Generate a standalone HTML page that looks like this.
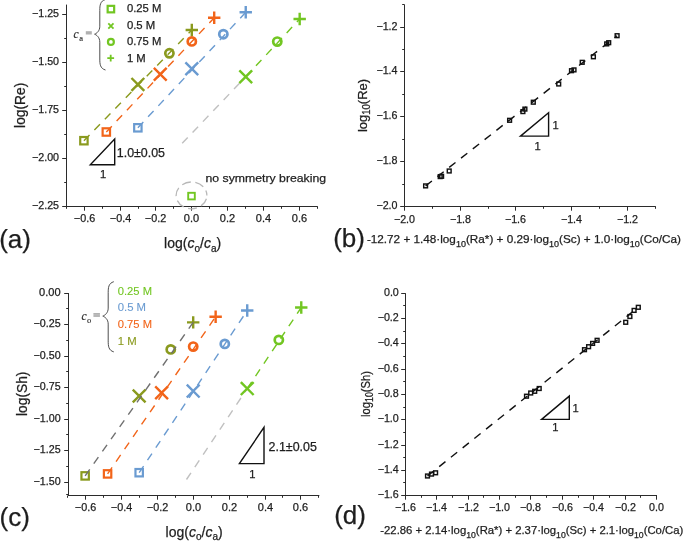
<!DOCTYPE html>
<html><head><meta charset="utf-8"><style>
html,body{margin:0;padding:0;background:#fff;width:685px;height:541px;overflow:hidden}
svg{display:block;will-change:transform}
text{stroke-width:0.25px}
</style></head><body>
<svg width="685" height="541" viewBox="0 0 685 541">
<rect width="685" height="541" fill="#fff"/>
<line x1="66.5" y1="4.6" x2="66.5" y2="207" stroke="#2b2b2b" stroke-width="1" />
<line x1="66" y1="206.5" x2="317.74" y2="206.5" stroke="#2b2b2b" stroke-width="1" />
<line x1="62.2" y1="14.5" x2="66.5" y2="14.5" stroke="#2b2b2b" stroke-width="1" />
<line x1="62.2" y1="62.5" x2="66.5" y2="62.5" stroke="#2b2b2b" stroke-width="1" />
<line x1="62.2" y1="110.5" x2="66.5" y2="110.5" stroke="#2b2b2b" stroke-width="1" />
<line x1="62.2" y1="158.5" x2="66.5" y2="158.5" stroke="#2b2b2b" stroke-width="1" />
<line x1="62.2" y1="206.5" x2="66.5" y2="206.5" stroke="#2b2b2b" stroke-width="1" />
<line x1="64.2" y1="38.5" x2="66.5" y2="38.5" stroke="#2b2b2b" stroke-width="1" />
<line x1="64.2" y1="86.5" x2="66.5" y2="86.5" stroke="#2b2b2b" stroke-width="1" />
<line x1="64.2" y1="134.5" x2="66.5" y2="134.5" stroke="#2b2b2b" stroke-width="1" />
<line x1="64.2" y1="182.5" x2="66.5" y2="182.5" stroke="#2b2b2b" stroke-width="1" />
<line x1="84.5" y1="206.5" x2="84.5" y2="210.7" stroke="#2b2b2b" stroke-width="1" />
<line x1="120.5" y1="206.5" x2="120.5" y2="210.7" stroke="#2b2b2b" stroke-width="1" />
<line x1="155.5" y1="206.5" x2="155.5" y2="210.7" stroke="#2b2b2b" stroke-width="1" />
<line x1="191.5" y1="206.5" x2="191.5" y2="210.7" stroke="#2b2b2b" stroke-width="1" />
<line x1="227.5" y1="206.5" x2="227.5" y2="210.7" stroke="#2b2b2b" stroke-width="1" />
<line x1="263.5" y1="206.5" x2="263.5" y2="210.7" stroke="#2b2b2b" stroke-width="1" />
<line x1="299.5" y1="206.5" x2="299.5" y2="210.7" stroke="#2b2b2b" stroke-width="1" />
<line x1="66.5" y1="206.5" x2="66.5" y2="208.8" stroke="#2b2b2b" stroke-width="1" />
<line x1="102.5" y1="206.5" x2="102.5" y2="208.8" stroke="#2b2b2b" stroke-width="1" />
<line x1="138.5" y1="206.5" x2="138.5" y2="208.8" stroke="#2b2b2b" stroke-width="1" />
<line x1="173.5" y1="206.5" x2="173.5" y2="208.8" stroke="#2b2b2b" stroke-width="1" />
<line x1="209.5" y1="206.5" x2="209.5" y2="208.8" stroke="#2b2b2b" stroke-width="1" />
<line x1="245.5" y1="206.5" x2="245.5" y2="208.8" stroke="#2b2b2b" stroke-width="1" />
<line x1="281.5" y1="206.5" x2="281.5" y2="208.8" stroke="#2b2b2b" stroke-width="1" />
<line x1="317.5" y1="206.5" x2="317.5" y2="208.8" stroke="#2b2b2b" stroke-width="1" />
<text id="ay0" x="59" y="17.4" font-size="10.7" text-anchor="end" fill="#1e1e1e" stroke="#1e1e1e" font-family="Liberation Sans" textLength="27" lengthAdjust="spacingAndGlyphs" >−1.25</text>
<text id="ay1" x="59" y="65.4" font-size="10.7" text-anchor="end" fill="#1e1e1e" stroke="#1e1e1e" font-family="Liberation Sans" textLength="27" lengthAdjust="spacingAndGlyphs" >−1.50</text>
<text id="ay2" x="59" y="113.4" font-size="10.7" text-anchor="end" fill="#1e1e1e" stroke="#1e1e1e" font-family="Liberation Sans" textLength="27" lengthAdjust="spacingAndGlyphs" >−1.75</text>
<text id="ay3" x="59" y="161.4" font-size="10.7" text-anchor="end" fill="#1e1e1e" stroke="#1e1e1e" font-family="Liberation Sans" textLength="27" lengthAdjust="spacingAndGlyphs" >−2.00</text>
<text id="ay4" x="59" y="209.4" font-size="10.7" text-anchor="end" fill="#1e1e1e" stroke="#1e1e1e" font-family="Liberation Sans" textLength="27" lengthAdjust="spacingAndGlyphs" >−2.25</text>
<text id="ax0" x="84.5" y="222" font-size="10.7" text-anchor="middle" fill="#1e1e1e" stroke="#1e1e1e" font-family="Liberation Sans" textLength="21.3" lengthAdjust="spacingAndGlyphs" >−0.6</text>
<text id="ax1" x="120.5" y="222" font-size="10.7" text-anchor="middle" fill="#1e1e1e" stroke="#1e1e1e" font-family="Liberation Sans" textLength="21.3" lengthAdjust="spacingAndGlyphs" >−0.4</text>
<text id="ax2" x="155.5" y="222" font-size="10.7" text-anchor="middle" fill="#1e1e1e" stroke="#1e1e1e" font-family="Liberation Sans" textLength="21.3" lengthAdjust="spacingAndGlyphs" >−0.2</text>
<text id="ax3" x="191.5" y="222" font-size="10.7" text-anchor="middle" fill="#1e1e1e" stroke="#1e1e1e" font-family="Liberation Sans" textLength="15.3" lengthAdjust="spacingAndGlyphs" >0.0</text>
<text id="ax4" x="227.5" y="222" font-size="10.7" text-anchor="middle" fill="#1e1e1e" stroke="#1e1e1e" font-family="Liberation Sans" textLength="15.3" lengthAdjust="spacingAndGlyphs" >0.2</text>
<text id="ax5" x="263.5" y="222" font-size="10.7" text-anchor="middle" fill="#1e1e1e" stroke="#1e1e1e" font-family="Liberation Sans" textLength="15.3" lengthAdjust="spacingAndGlyphs" >0.4</text>
<text id="ax6" x="299.5" y="222" font-size="10.7" text-anchor="middle" fill="#1e1e1e" stroke="#1e1e1e" font-family="Liberation Sans" textLength="15.3" lengthAdjust="spacingAndGlyphs" >0.6</text>
<line x1="182.2" y1="143.3" x2="245.74" y2="76.8" stroke="#c0c0c0" stroke-width="1.4" stroke-dasharray="8 7" stroke-dashoffset="0"/>
<rect x="80.22" y="137" width="7.4" height="7.4" fill="none" stroke="#8a9a1e" stroke-width="2.2"/>
<path d="M131.46 78L144.26 90.8M131.46 90.8L144.26 78" stroke="#8a9a1e" stroke-width="2.4" fill="none"/>
<circle cx="169.4" cy="53.3" r="4.1" fill="none" stroke="#8a9a1e" stroke-width="2.7"/>
<path d="M185.6 30L198 30M191.8 23.8L191.8 36.2" stroke="#8a9a1e" stroke-width="2.4" fill="none"/>
<rect x="102.62" y="128.3" width="7.4" height="7.4" fill="none" stroke="#f26419" stroke-width="2.2"/>
<path d="M153.86 67.9L166.66 80.7M153.86 80.7L166.66 67.9" stroke="#f26419" stroke-width="2.4" fill="none"/>
<circle cx="191.8" cy="41.4" r="4.1" fill="none" stroke="#f26419" stroke-width="2.7"/>
<path d="M208 17.8L220.4 17.8M214.2 11.6L214.2 24" stroke="#f26419" stroke-width="2.4" fill="none"/>
<rect x="134.16" y="124.1" width="7.4" height="7.4" fill="none" stroke="#6a9bd1" stroke-width="2.2"/>
<path d="M185.4 62.4L198.2 75.2M185.4 75.2L198.2 62.4" stroke="#6a9bd1" stroke-width="2.4" fill="none"/>
<circle cx="223.34" cy="34.2" r="4.1" fill="none" stroke="#6a9bd1" stroke-width="2.7"/>
<path d="M239.54 12.3L251.94 12.3M245.74 6.1L245.74 18.5" stroke="#6a9bd1" stroke-width="2.4" fill="none"/>
<path d="M239.34 70.4L252.14 83.2M239.34 83.2L252.14 70.4" stroke="#72c622" stroke-width="2.4" fill="none"/>
<circle cx="277.28" cy="41.6" r="4.1" fill="none" stroke="#72c622" stroke-width="2.7"/>
<path d="M293.48 19L305.88 19M299.68 12.8L299.68 25.2" stroke="#72c622" stroke-width="2.4" fill="none"/>
<line x1="83.92" y1="140.7" x2="191.8" y2="30" stroke="#8a9a1e" stroke-width="1.4" stroke-dasharray="8 7" stroke-dashoffset="0"/>
<line x1="106.32" y1="132" x2="214.2" y2="17.8" stroke="#f26419" stroke-width="1.4" stroke-dasharray="8 7" stroke-dashoffset="0"/>
<line x1="137.86" y1="127.8" x2="245.74" y2="12.3" stroke="#6a9bd1" stroke-width="1.4" stroke-dasharray="8 7" stroke-dashoffset="0"/>
<line x1="245.74" y1="76.8" x2="299.68" y2="19" stroke="#72c622" stroke-width="1.4" stroke-dasharray="8 7" stroke-dashoffset="0"/>
<ellipse cx="191.5" cy="195.4" rx="15.4" ry="13.4" fill="none" stroke="#b8b8b8" stroke-width="1.3" stroke-dasharray="9 4.6" stroke-dashoffset="10.2"/>
<rect x="188.2" y="192.8" width="6.6" height="6.6" fill="none" stroke="#72c622" stroke-width="1.9"/>
<text id="nsb" x="205.5" y="181.8" font-size="11.8" text-anchor="start" fill="#1e1e1e" stroke="#1e1e1e" font-family="Liberation Sans" textLength="120.6" lengthAdjust="spacingAndGlyphs" >no symmetry breaking</text>
<path d="M90.3 164.7 L114.7 164.7 L114.7 138.9 Z" fill="none" stroke="#111" stroke-width="1.4" stroke-linejoin="miter"/>
<text id="a_slope" x="116.8" y="156.8" font-size="11.9" text-anchor="start" fill="#1e1e1e" stroke="#1e1e1e" font-family="Liberation Sans" textLength="48.2" lengthAdjust="spacingAndGlyphs" >1.0±0.05</text>
<text id="a_one" x="103.2" y="178.2" font-size="11.2" text-anchor="middle" fill="#1e1e1e" stroke="#1e1e1e" font-family="Liberation Sans" >1</text>
<path d="M105.5 -0.5 C100.1 1 99.8 5.5 99.8 10.5 L99.8 26.2 C99.8 31.2 96.6 33.4 94.6 34.2 C96.6 35 99.8 37.2 99.8 42.2 L99.8 59 C99.8 64 100.1 68.5 105.5 70" fill="none" stroke="#3a3a3a" stroke-width="0.9"/>
<rect x="107.65" y="5.85" width="6.5" height="6.5" fill="none" stroke="#72c622" stroke-width="2.2"/>
<path d="M108.3 23.4L113.5 28.6M108.3 28.6L113.5 23.4" stroke="#72c622" stroke-width="1.8" fill="none"/>
<circle cx="110.9" cy="41.9" r="2.95" fill="none" stroke="#72c622" stroke-width="2.2"/>
<path d="M107.3 58.2L114.1 58.2M110.7 54.8L110.7 61.6" stroke="#72c622" stroke-width="1.8" fill="none"/>
<text id="alg0" x="126.9" y="12" font-size="10.9" text-anchor="start" fill="#1e1e1e" stroke="#1e1e1e" font-family="Liberation Sans" textLength="34.4" lengthAdjust="spacingAndGlyphs" >0.25 M</text>
<text id="alg1" x="126.9" y="28.8" font-size="10.9" text-anchor="start" fill="#1e1e1e" stroke="#1e1e1e" font-family="Liberation Sans" textLength="28.4" lengthAdjust="spacingAndGlyphs" >0.5 M</text>
<text id="alg2" x="126.9" y="45.3" font-size="10.9" text-anchor="start" fill="#1e1e1e" stroke="#1e1e1e" font-family="Liberation Sans" textLength="34.4" lengthAdjust="spacingAndGlyphs" >0.75 M</text>
<text id="alg3" x="126.9" y="61.8" font-size="10.9" text-anchor="start" fill="#1e1e1e" stroke="#1e1e1e" font-family="Liberation Sans" textLength="18.8" lengthAdjust="spacingAndGlyphs" >1 M</text>
<text x="73.4" y="37.6" font-family="Liberation Serif" font-style="italic" font-size="11.5" fill="#333" stroke="#333" style="stroke-width:0.2px">c</text>
<text x="79.3" y="40.8" font-family="Liberation Serif" font-size="8.5" fill="#333" stroke="#333" style="stroke-width:0.2px">a</text>
<rect x="85.8" y="31.2" width="6" height="3.3" fill="#b0b0b0"/>
<text id="a_ylab" transform="translate(25.3,105.3) rotate(-90)" font-family="Liberation Sans" font-size="13.8" text-anchor="middle" fill="#1e1e1e" stroke="#1e1e1e">log(Re)</text>
<text id="a_xlab" x="164.1" y="248.2" font-family="Liberation Sans" font-size="14" fill="#1e1e1e" stroke="#1e1e1e">log(<tspan font-style="italic">c</tspan><tspan font-size="10" dy="3.8">o</tspan><tspan dy="-3.8">/</tspan><tspan font-style="italic">c</tspan><tspan font-size="10" dy="3.8">a</tspan><tspan dy="-3.8">)</tspan></text>
<text id="a_pl" x="-0.8" y="247.9" font-family="Liberation Sans" font-size="26" fill="#1e1e1e" stroke="#1e1e1e">(a)</text>
<line x1="404.5" y1="4.55" x2="404.5" y2="207" stroke="#2b2b2b" stroke-width="1" />
<line x1="404" y1="206.5" x2="655.82" y2="206.5" stroke="#2b2b2b" stroke-width="1" />
<line x1="400.2" y1="27.5" x2="404.5" y2="27.5" stroke="#2b2b2b" stroke-width="1" />
<line x1="400.2" y1="71.5" x2="404.5" y2="71.5" stroke="#2b2b2b" stroke-width="1" />
<line x1="400.2" y1="116.5" x2="404.5" y2="116.5" stroke="#2b2b2b" stroke-width="1" />
<line x1="400.2" y1="161.5" x2="404.5" y2="161.5" stroke="#2b2b2b" stroke-width="1" />
<line x1="400.2" y1="206.5" x2="404.5" y2="206.5" stroke="#2b2b2b" stroke-width="1" />
<line x1="402.2" y1="4.5" x2="404.5" y2="4.5" stroke="#2b2b2b" stroke-width="1" />
<line x1="402.2" y1="49.5" x2="404.5" y2="49.5" stroke="#2b2b2b" stroke-width="1" />
<line x1="402.2" y1="94.5" x2="404.5" y2="94.5" stroke="#2b2b2b" stroke-width="1" />
<line x1="402.2" y1="139.5" x2="404.5" y2="139.5" stroke="#2b2b2b" stroke-width="1" />
<line x1="402.2" y1="184.5" x2="404.5" y2="184.5" stroke="#2b2b2b" stroke-width="1" />
<line x1="404.5" y1="206.5" x2="404.5" y2="210.7" stroke="#2b2b2b" stroke-width="1" />
<line x1="460.5" y1="206.5" x2="460.5" y2="210.7" stroke="#2b2b2b" stroke-width="1" />
<line x1="515.5" y1="206.5" x2="515.5" y2="210.7" stroke="#2b2b2b" stroke-width="1" />
<line x1="571.5" y1="206.5" x2="571.5" y2="210.7" stroke="#2b2b2b" stroke-width="1" />
<line x1="627.5" y1="206.5" x2="627.5" y2="210.7" stroke="#2b2b2b" stroke-width="1" />
<line x1="432.5" y1="206.5" x2="432.5" y2="208.8" stroke="#2b2b2b" stroke-width="1" />
<line x1="488.5" y1="206.5" x2="488.5" y2="208.8" stroke="#2b2b2b" stroke-width="1" />
<line x1="543.5" y1="206.5" x2="543.5" y2="208.8" stroke="#2b2b2b" stroke-width="1" />
<line x1="599.5" y1="206.5" x2="599.5" y2="208.8" stroke="#2b2b2b" stroke-width="1" />
<line x1="655.5" y1="206.5" x2="655.5" y2="208.8" stroke="#2b2b2b" stroke-width="1" />
<text id="by0" x="397.5" y="30.4" font-size="10.7" text-anchor="end" fill="#1e1e1e" stroke="#1e1e1e" font-family="Liberation Sans" >−1.2</text>
<text id="by1" x="397.5" y="74.4" font-size="10.7" text-anchor="end" fill="#1e1e1e" stroke="#1e1e1e" font-family="Liberation Sans" >−1.4</text>
<text id="by2" x="397.5" y="119.4" font-size="10.7" text-anchor="end" fill="#1e1e1e" stroke="#1e1e1e" font-family="Liberation Sans" >−1.6</text>
<text id="by3" x="397.5" y="164.4" font-size="10.7" text-anchor="end" fill="#1e1e1e" stroke="#1e1e1e" font-family="Liberation Sans" >−1.8</text>
<text id="by4" x="397.5" y="209.4" font-size="10.7" text-anchor="end" fill="#1e1e1e" stroke="#1e1e1e" font-family="Liberation Sans" >−2.0</text>
<text id="bx0" x="404.5" y="222.5" font-size="10.7" text-anchor="middle" fill="#1e1e1e" stroke="#1e1e1e" font-family="Liberation Sans" >−2.0</text>
<text id="bx1" x="460.5" y="222.5" font-size="10.7" text-anchor="middle" fill="#1e1e1e" stroke="#1e1e1e" font-family="Liberation Sans" >−1.8</text>
<text id="bx2" x="515.5" y="222.5" font-size="10.7" text-anchor="middle" fill="#1e1e1e" stroke="#1e1e1e" font-family="Liberation Sans" >−1.6</text>
<text id="bx3" x="571.5" y="222.5" font-size="10.7" text-anchor="middle" fill="#1e1e1e" stroke="#1e1e1e" font-family="Liberation Sans" >−1.4</text>
<text id="bx4" x="627.5" y="222.5" font-size="10.7" text-anchor="middle" fill="#1e1e1e" stroke="#1e1e1e" font-family="Liberation Sans" >−1.2</text>
<rect x="423.7" y="184" width="3.8" height="3.8" fill="none" stroke="#111" stroke-width="1.45"/>
<rect x="438.3" y="174.7" width="3.8" height="3.8" fill="none" stroke="#111" stroke-width="1.45"/>
<rect x="439.7" y="174.4" width="3.8" height="3.8" fill="none" stroke="#111" stroke-width="1.45"/>
<rect x="447.3" y="169.1" width="3.8" height="3.8" fill="none" stroke="#111" stroke-width="1.45"/>
<rect x="507.7" y="118.4" width="3.8" height="3.8" fill="none" stroke="#111" stroke-width="1.45"/>
<rect x="521" y="109.7" width="3.8" height="3.8" fill="none" stroke="#111" stroke-width="1.45"/>
<rect x="523" y="107.2" width="3.8" height="3.8" fill="none" stroke="#111" stroke-width="1.45"/>
<rect x="531.4" y="100.3" width="3.8" height="3.8" fill="none" stroke="#111" stroke-width="1.45"/>
<rect x="556.8" y="82.1" width="3.8" height="3.8" fill="none" stroke="#111" stroke-width="1.45"/>
<rect x="569.6" y="68.8" width="3.8" height="3.8" fill="none" stroke="#111" stroke-width="1.45"/>
<rect x="572.1" y="68" width="3.8" height="3.8" fill="none" stroke="#111" stroke-width="1.45"/>
<rect x="580.3" y="60.4" width="3.8" height="3.8" fill="none" stroke="#111" stroke-width="1.45"/>
<rect x="591.5" y="54.9" width="3.8" height="3.8" fill="none" stroke="#111" stroke-width="1.45"/>
<rect x="604.8" y="42" width="3.8" height="3.8" fill="none" stroke="#111" stroke-width="1.45"/>
<rect x="606.8" y="40.8" width="3.8" height="3.8" fill="none" stroke="#111" stroke-width="1.45"/>
<rect x="615.2" y="33.8" width="3.8" height="3.8" fill="none" stroke="#111" stroke-width="1.45"/>
<line x1="425.6" y1="185.9" x2="617.1" y2="35.7" stroke="#111" stroke-width="1.4" stroke-dasharray="8 7" stroke-dashoffset="0"/>
<path d="M520.5 136.1 L548.6 136.1 L548.6 112.8 Z" fill="none" stroke="#111" stroke-width="1.4"/>
<text id="b_one1" x="555.5" y="128.6" font-size="11.2" text-anchor="middle" fill="#1e1e1e" stroke="#1e1e1e" font-family="Liberation Sans" >1</text>
<text id="b_one2" x="537.5" y="149.9" font-size="11.2" text-anchor="middle" fill="#1e1e1e" stroke="#1e1e1e" font-family="Liberation Sans" >1</text>
<text id="b_ylab" transform="translate(366.6,105.5) rotate(-90)" font-family="Liberation Sans" font-size="13.6" text-anchor="middle" fill="#1e1e1e" stroke="#1e1e1e" textLength="53.2" lengthAdjust="spacingAndGlyphs">log<tspan font-size="10" dy="3">10</tspan><tspan dy="-3">(Re)</tspan></text>
<text id="b_pl" x="333.2" y="246.8" font-family="Liberation Sans" font-size="26" fill="#1e1e1e" stroke="#1e1e1e">(b)</text>
<text id="b_form" x="366.9" y="243" font-family="Liberation Sans" font-size="11.2" fill="#1e1e1e" stroke="#1e1e1e" textLength="314" lengthAdjust="spacingAndGlyphs">-12.72 + 1.48·log<tspan font-size="8.6" dy="3.9">10</tspan><tspan dy="-3.9">(Ra*) + 0.29·log</tspan><tspan font-size="8.6" dy="3.9">10</tspan><tspan dy="-3.9">(Sc) + 1.0·log</tspan><tspan font-size="8.6" dy="3.9">10</tspan><tspan dy="-3.9">(Co/Ca)</tspan></text>
<line x1="68.5" y1="293" x2="68.5" y2="496" stroke="#2b2b2b" stroke-width="1" />
<line x1="68" y1="495.5" x2="319.35" y2="495.5" stroke="#2b2b2b" stroke-width="1" />
<line x1="64.2" y1="293.5" x2="68.5" y2="293.5" stroke="#2b2b2b" stroke-width="1" />
<line x1="64.2" y1="324.5" x2="68.5" y2="324.5" stroke="#2b2b2b" stroke-width="1" />
<line x1="64.2" y1="356.5" x2="68.5" y2="356.5" stroke="#2b2b2b" stroke-width="1" />
<line x1="64.2" y1="387.5" x2="68.5" y2="387.5" stroke="#2b2b2b" stroke-width="1" />
<line x1="64.2" y1="419.5" x2="68.5" y2="419.5" stroke="#2b2b2b" stroke-width="1" />
<line x1="64.2" y1="450.5" x2="68.5" y2="450.5" stroke="#2b2b2b" stroke-width="1" />
<line x1="64.2" y1="482.5" x2="68.5" y2="482.5" stroke="#2b2b2b" stroke-width="1" />
<line x1="66.2" y1="308.5" x2="68.5" y2="308.5" stroke="#2b2b2b" stroke-width="1" />
<line x1="66.2" y1="340.5" x2="68.5" y2="340.5" stroke="#2b2b2b" stroke-width="1" />
<line x1="66.2" y1="371.5" x2="68.5" y2="371.5" stroke="#2b2b2b" stroke-width="1" />
<line x1="66.2" y1="403.5" x2="68.5" y2="403.5" stroke="#2b2b2b" stroke-width="1" />
<line x1="66.2" y1="434.5" x2="68.5" y2="434.5" stroke="#2b2b2b" stroke-width="1" />
<line x1="66.2" y1="466.5" x2="68.5" y2="466.5" stroke="#2b2b2b" stroke-width="1" />
<line x1="66.2" y1="494.5" x2="68.5" y2="494.5" stroke="#2b2b2b" stroke-width="1" />
<line x1="85.5" y1="495.5" x2="85.5" y2="499.7" stroke="#2b2b2b" stroke-width="1" />
<line x1="121.5" y1="495.5" x2="121.5" y2="499.7" stroke="#2b2b2b" stroke-width="1" />
<line x1="157.5" y1="495.5" x2="157.5" y2="499.7" stroke="#2b2b2b" stroke-width="1" />
<line x1="193.5" y1="495.5" x2="193.5" y2="499.7" stroke="#2b2b2b" stroke-width="1" />
<line x1="229.5" y1="495.5" x2="229.5" y2="499.7" stroke="#2b2b2b" stroke-width="1" />
<line x1="265.5" y1="495.5" x2="265.5" y2="499.7" stroke="#2b2b2b" stroke-width="1" />
<line x1="300.5" y1="495.5" x2="300.5" y2="499.7" stroke="#2b2b2b" stroke-width="1" />
<line x1="67.5" y1="495.5" x2="67.5" y2="497.8" stroke="#2b2b2b" stroke-width="1" />
<line x1="103.5" y1="495.5" x2="103.5" y2="497.8" stroke="#2b2b2b" stroke-width="1" />
<line x1="139.5" y1="495.5" x2="139.5" y2="497.8" stroke="#2b2b2b" stroke-width="1" />
<line x1="175.5" y1="495.5" x2="175.5" y2="497.8" stroke="#2b2b2b" stroke-width="1" />
<line x1="211.5" y1="495.5" x2="211.5" y2="497.8" stroke="#2b2b2b" stroke-width="1" />
<line x1="247.5" y1="495.5" x2="247.5" y2="497.8" stroke="#2b2b2b" stroke-width="1" />
<line x1="282.5" y1="495.5" x2="282.5" y2="497.8" stroke="#2b2b2b" stroke-width="1" />
<line x1="318.5" y1="495.5" x2="318.5" y2="497.8" stroke="#2b2b2b" stroke-width="1" />
<text id="cy0" x="60.6" y="296.4" font-size="10.7" text-anchor="end" fill="#1e1e1e" stroke="#1e1e1e" font-family="Liberation Sans" textLength="21.5" lengthAdjust="spacingAndGlyphs" >0.00</text>
<text id="cy1" x="60.6" y="327.4" font-size="10.7" text-anchor="end" fill="#1e1e1e" stroke="#1e1e1e" font-family="Liberation Sans" textLength="27" lengthAdjust="spacingAndGlyphs" >−0.25</text>
<text id="cy2" x="60.6" y="359.4" font-size="10.7" text-anchor="end" fill="#1e1e1e" stroke="#1e1e1e" font-family="Liberation Sans" textLength="27" lengthAdjust="spacingAndGlyphs" >−0.50</text>
<text id="cy3" x="60.6" y="390.4" font-size="10.7" text-anchor="end" fill="#1e1e1e" stroke="#1e1e1e" font-family="Liberation Sans" textLength="27" lengthAdjust="spacingAndGlyphs" >−0.75</text>
<text id="cy4" x="60.6" y="422.4" font-size="10.7" text-anchor="end" fill="#1e1e1e" stroke="#1e1e1e" font-family="Liberation Sans" textLength="27" lengthAdjust="spacingAndGlyphs" >−1.00</text>
<text id="cy5" x="60.6" y="453.4" font-size="10.7" text-anchor="end" fill="#1e1e1e" stroke="#1e1e1e" font-family="Liberation Sans" textLength="27" lengthAdjust="spacingAndGlyphs" >−1.25</text>
<text id="cy6" x="60.6" y="485.4" font-size="10.7" text-anchor="end" fill="#1e1e1e" stroke="#1e1e1e" font-family="Liberation Sans" textLength="27" lengthAdjust="spacingAndGlyphs" >−1.50</text>
<text id="cx0" x="85.5" y="510.8" font-size="10.7" text-anchor="middle" fill="#1e1e1e" stroke="#1e1e1e" font-family="Liberation Sans" textLength="21.3" lengthAdjust="spacingAndGlyphs" >−0.6</text>
<text id="cx1" x="121.5" y="510.8" font-size="10.7" text-anchor="middle" fill="#1e1e1e" stroke="#1e1e1e" font-family="Liberation Sans" textLength="21.3" lengthAdjust="spacingAndGlyphs" >−0.4</text>
<text id="cx2" x="157.5" y="510.8" font-size="10.7" text-anchor="middle" fill="#1e1e1e" stroke="#1e1e1e" font-family="Liberation Sans" textLength="21.3" lengthAdjust="spacingAndGlyphs" >−0.2</text>
<text id="cx3" x="193.5" y="510.8" font-size="10.7" text-anchor="middle" fill="#1e1e1e" stroke="#1e1e1e" font-family="Liberation Sans" textLength="15.3" lengthAdjust="spacingAndGlyphs" >0.0</text>
<text id="cx4" x="229.5" y="510.8" font-size="10.7" text-anchor="middle" fill="#1e1e1e" stroke="#1e1e1e" font-family="Liberation Sans" textLength="15.3" lengthAdjust="spacingAndGlyphs" >0.2</text>
<text id="cx5" x="265.5" y="510.8" font-size="10.7" text-anchor="middle" fill="#1e1e1e" stroke="#1e1e1e" font-family="Liberation Sans" textLength="15.3" lengthAdjust="spacingAndGlyphs" >0.4</text>
<text id="cx6" x="300.5" y="510.8" font-size="10.7" text-anchor="middle" fill="#1e1e1e" stroke="#1e1e1e" font-family="Liberation Sans" textLength="15.3" lengthAdjust="spacingAndGlyphs" >0.6</text>
<line x1="186.5" y1="479.5" x2="247.23" y2="388.6" stroke="#c0c0c0" stroke-width="1.4" stroke-dasharray="8 7" stroke-dashoffset="0"/>
<rect x="81.44" y="472.2" width="7.4" height="7.4" fill="none" stroke="#8a9a1e" stroke-width="2.2"/>
<path d="M132.77 389.6L145.57 402.4M132.77 402.4L145.57 389.6" stroke="#8a9a1e" stroke-width="2.4" fill="none"/>
<circle cx="170.76" cy="349.4" r="4.1" fill="none" stroke="#8a9a1e" stroke-width="2.7"/>
<path d="M187 322.4L199.4 322.4M193.2 316.2L193.2 328.6" stroke="#8a9a1e" stroke-width="2.4" fill="none"/>
<rect x="103.88" y="470.2" width="7.4" height="7.4" fill="none" stroke="#f26419" stroke-width="2.2"/>
<path d="M155.21 386.4L168.01 399.2M155.21 399.2L168.01 386.4" stroke="#f26419" stroke-width="2.4" fill="none"/>
<circle cx="193.2" cy="346.6" r="4.1" fill="none" stroke="#f26419" stroke-width="2.7"/>
<path d="M209.44 316.7L221.84 316.7M215.64 310.5L215.64 322.9" stroke="#f26419" stroke-width="2.4" fill="none"/>
<rect x="135.47" y="469" width="7.4" height="7.4" fill="none" stroke="#6a9bd1" stroke-width="2.2"/>
<path d="M186.8 384.7L199.6 397.5M186.8 397.5L199.6 384.7" stroke="#6a9bd1" stroke-width="2.4" fill="none"/>
<circle cx="224.79" cy="343.9" r="4.1" fill="none" stroke="#6a9bd1" stroke-width="2.7"/>
<path d="M241.03 310.5L253.43 310.5M247.23 304.3L247.23 316.7" stroke="#6a9bd1" stroke-width="2.4" fill="none"/>
<path d="M240.83 382.2L253.63 395M240.83 395L253.63 382.2" stroke="#72c622" stroke-width="2.4" fill="none"/>
<circle cx="278.82" cy="339.9" r="4.1" fill="none" stroke="#72c622" stroke-width="2.7"/>
<path d="M295.06 307.5L307.46 307.5M301.26 301.3L301.26 313.7" stroke="#72c622" stroke-width="2.4" fill="none"/>
<line x1="85.14" y1="475.9" x2="193.2" y2="322.4" stroke="#707070" stroke-width="1.4" stroke-dasharray="8 7" stroke-dashoffset="0"/>
<line x1="107.58" y1="473.9" x2="215.64" y2="316.7" stroke="#f26419" stroke-width="1.4" stroke-dasharray="8 7" stroke-dashoffset="0"/>
<line x1="139.17" y1="472.7" x2="247.23" y2="310.5" stroke="#6a9bd1" stroke-width="1.4" stroke-dasharray="8 7" stroke-dashoffset="0"/>
<line x1="247.23" y1="388.6" x2="301.26" y2="307.5" stroke="#72c622" stroke-width="1.4" stroke-dasharray="8 7" stroke-dashoffset="0"/>
<path d="M239.4 463.6 L264 463.6 L264 427.4 Z" fill="none" stroke="#111" stroke-width="1.4"/>
<text id="c_slope" x="268.6" y="451.2" font-size="11.9" text-anchor="start" fill="#1e1e1e" stroke="#1e1e1e" font-family="Liberation Sans" textLength="48.3" lengthAdjust="spacingAndGlyphs" >2.1±0.05</text>
<text id="c_one" x="252.3" y="478.2" font-size="11.2" text-anchor="middle" fill="#1e1e1e" stroke="#1e1e1e" font-family="Liberation Sans" >1</text>
<path d="M113.8 281.7 C108.5 283.2 108.2 287.7 108.2 292.7 L108.2 308.1 C108.2 313.1 104.8 315.3 102.8 316.1 C104.8 316.9 108.2 319.1 108.2 324.1 L108.2 340.9 C108.2 345.9 108.5 350.4 113.8 351.9" fill="none" stroke="#3a3a3a" stroke-width="0.9"/>
<text id="clg0" x="117.7" y="294.7" font-size="10.9" text-anchor="start" fill="#72c622" stroke="#72c622" font-family="Liberation Sans" textLength="34.3" lengthAdjust="spacingAndGlyphs" style="stroke-width:0.1px">0.25 M</text>
<text id="clg1" x="117.7" y="311.3" font-size="10.9" text-anchor="start" fill="#6a9bd1" stroke="#6a9bd1" font-family="Liberation Sans" textLength="28.4" lengthAdjust="spacingAndGlyphs" style="stroke-width:0.1px">0.5 M</text>
<text id="clg2" x="117.7" y="328" font-size="10.9" text-anchor="start" fill="#f26419" stroke="#f26419" font-family="Liberation Sans" textLength="34.3" lengthAdjust="spacingAndGlyphs" style="stroke-width:0.1px">0.75 M</text>
<text id="clg3" x="117.7" y="344.5" font-size="10.9" text-anchor="start" fill="#8a9a1e" stroke="#8a9a1e" font-family="Liberation Sans" textLength="18.9" lengthAdjust="spacingAndGlyphs" style="stroke-width:0.1px">1 M</text>
<text x="81.6" y="319.6" font-family="Liberation Serif" font-style="italic" font-size="11.5" fill="#333" stroke="#333" style="stroke-width:0.2px">c</text>
<text x="87.0" y="322.6" font-family="Liberation Serif" font-size="8.5" fill="#333" stroke="#333" style="stroke-width:0.2px">o</text>
<rect x="93.5" y="313.2" width="6.4" height="3.5" fill="#d0d0d0"/><rect x="93.5" y="313.2" width="6.4" height="1.3" fill="#a8a8a8"/><rect x="93.5" y="315.4" width="6.4" height="1.3" fill="#a8a8a8"/>
<text id="c_ylab" transform="translate(26.5,393.8) rotate(-90)" font-family="Liberation Sans" font-size="13.8" text-anchor="middle" fill="#1e1e1e" stroke="#1e1e1e">log(Sh)</text>
<text id="c_xlab" x="165.6" y="536.6" font-family="Liberation Sans" font-size="14" fill="#1e1e1e" stroke="#1e1e1e">log(<tspan font-style="italic">c</tspan><tspan font-size="10" dy="3.8">o</tspan><tspan dy="-3.8">/</tspan><tspan font-style="italic">c</tspan><tspan font-size="10" dy="3.8">a</tspan><tspan dy="-3.8">)</tspan></text>
<text id="c_pl" x="-0.4" y="525.5" font-family="Liberation Sans" font-size="26" fill="#1e1e1e" stroke="#1e1e1e">(c)</text>
<line x1="405.5" y1="293.2" x2="405.5" y2="496" stroke="#2b2b2b" stroke-width="1" />
<line x1="405" y1="495.5" x2="657" y2="495.5" stroke="#2b2b2b" stroke-width="1" />
<line x1="401.2" y1="293.5" x2="405.5" y2="293.5" stroke="#2b2b2b" stroke-width="1" />
<line x1="401.2" y1="318.5" x2="405.5" y2="318.5" stroke="#2b2b2b" stroke-width="1" />
<line x1="401.2" y1="343.5" x2="405.5" y2="343.5" stroke="#2b2b2b" stroke-width="1" />
<line x1="401.2" y1="369.5" x2="405.5" y2="369.5" stroke="#2b2b2b" stroke-width="1" />
<line x1="401.2" y1="394.5" x2="405.5" y2="394.5" stroke="#2b2b2b" stroke-width="1" />
<line x1="401.2" y1="419.5" x2="405.5" y2="419.5" stroke="#2b2b2b" stroke-width="1" />
<line x1="401.2" y1="445.5" x2="405.5" y2="445.5" stroke="#2b2b2b" stroke-width="1" />
<line x1="401.2" y1="470.5" x2="405.5" y2="470.5" stroke="#2b2b2b" stroke-width="1" />
<line x1="401.2" y1="495.5" x2="405.5" y2="495.5" stroke="#2b2b2b" stroke-width="1" />
<line x1="403.2" y1="305.5" x2="405.5" y2="305.5" stroke="#2b2b2b" stroke-width="1" />
<line x1="403.2" y1="331.5" x2="405.5" y2="331.5" stroke="#2b2b2b" stroke-width="1" />
<line x1="403.2" y1="356.5" x2="405.5" y2="356.5" stroke="#2b2b2b" stroke-width="1" />
<line x1="403.2" y1="381.5" x2="405.5" y2="381.5" stroke="#2b2b2b" stroke-width="1" />
<line x1="403.2" y1="407.5" x2="405.5" y2="407.5" stroke="#2b2b2b" stroke-width="1" />
<line x1="403.2" y1="432.5" x2="405.5" y2="432.5" stroke="#2b2b2b" stroke-width="1" />
<line x1="403.2" y1="457.5" x2="405.5" y2="457.5" stroke="#2b2b2b" stroke-width="1" />
<line x1="403.2" y1="482.5" x2="405.5" y2="482.5" stroke="#2b2b2b" stroke-width="1" />
<line x1="405.5" y1="495.5" x2="405.5" y2="499.7" stroke="#2b2b2b" stroke-width="1" />
<line x1="436.5" y1="495.5" x2="436.5" y2="499.7" stroke="#2b2b2b" stroke-width="1" />
<line x1="468.5" y1="495.5" x2="468.5" y2="499.7" stroke="#2b2b2b" stroke-width="1" />
<line x1="499.5" y1="495.5" x2="499.5" y2="499.7" stroke="#2b2b2b" stroke-width="1" />
<line x1="530.5" y1="495.5" x2="530.5" y2="499.7" stroke="#2b2b2b" stroke-width="1" />
<line x1="562.5" y1="495.5" x2="562.5" y2="499.7" stroke="#2b2b2b" stroke-width="1" />
<line x1="593.5" y1="495.5" x2="593.5" y2="499.7" stroke="#2b2b2b" stroke-width="1" />
<line x1="625.5" y1="495.5" x2="625.5" y2="499.7" stroke="#2b2b2b" stroke-width="1" />
<line x1="656.5" y1="495.5" x2="656.5" y2="499.7" stroke="#2b2b2b" stroke-width="1" />
<line x1="421.5" y1="495.5" x2="421.5" y2="497.8" stroke="#2b2b2b" stroke-width="1" />
<line x1="452.5" y1="495.5" x2="452.5" y2="497.8" stroke="#2b2b2b" stroke-width="1" />
<line x1="483.5" y1="495.5" x2="483.5" y2="497.8" stroke="#2b2b2b" stroke-width="1" />
<line x1="515.5" y1="495.5" x2="515.5" y2="497.8" stroke="#2b2b2b" stroke-width="1" />
<line x1="546.5" y1="495.5" x2="546.5" y2="497.8" stroke="#2b2b2b" stroke-width="1" />
<line x1="578.5" y1="495.5" x2="578.5" y2="497.8" stroke="#2b2b2b" stroke-width="1" />
<line x1="609.5" y1="495.5" x2="609.5" y2="497.8" stroke="#2b2b2b" stroke-width="1" />
<line x1="640.5" y1="495.5" x2="640.5" y2="497.8" stroke="#2b2b2b" stroke-width="1" />
<text id="dy0" x="398.8" y="296.4" font-size="10.7" text-anchor="end" fill="#1e1e1e" stroke="#1e1e1e" font-family="Liberation Sans" >0.0</text>
<text id="dy1" x="398.8" y="321.4" font-size="10.7" text-anchor="end" fill="#1e1e1e" stroke="#1e1e1e" font-family="Liberation Sans" >−0.2</text>
<text id="dy2" x="398.8" y="346.4" font-size="10.7" text-anchor="end" fill="#1e1e1e" stroke="#1e1e1e" font-family="Liberation Sans" >−0.4</text>
<text id="dy3" x="398.8" y="372.4" font-size="10.7" text-anchor="end" fill="#1e1e1e" stroke="#1e1e1e" font-family="Liberation Sans" >−0.6</text>
<text id="dy4" x="398.8" y="397.4" font-size="10.7" text-anchor="end" fill="#1e1e1e" stroke="#1e1e1e" font-family="Liberation Sans" >−0.8</text>
<text id="dy5" x="398.8" y="422.4" font-size="10.7" text-anchor="end" fill="#1e1e1e" stroke="#1e1e1e" font-family="Liberation Sans" >−1.0</text>
<text id="dy6" x="398.8" y="448.4" font-size="10.7" text-anchor="end" fill="#1e1e1e" stroke="#1e1e1e" font-family="Liberation Sans" >−1.2</text>
<text id="dy7" x="398.8" y="473.4" font-size="10.7" text-anchor="end" fill="#1e1e1e" stroke="#1e1e1e" font-family="Liberation Sans" >−1.4</text>
<text id="dy8" x="398.8" y="498.4" font-size="10.7" text-anchor="end" fill="#1e1e1e" stroke="#1e1e1e" font-family="Liberation Sans" >−1.6</text>
<text id="dx0" x="405.5" y="510.7" font-size="10.7" text-anchor="middle" fill="#1e1e1e" stroke="#1e1e1e" font-family="Liberation Sans" >−1.6</text>
<text id="dx1" x="436.5" y="510.7" font-size="10.7" text-anchor="middle" fill="#1e1e1e" stroke="#1e1e1e" font-family="Liberation Sans" >−1.4</text>
<text id="dx2" x="468.5" y="510.7" font-size="10.7" text-anchor="middle" fill="#1e1e1e" stroke="#1e1e1e" font-family="Liberation Sans" >−1.2</text>
<text id="dx3" x="499.5" y="510.7" font-size="10.7" text-anchor="middle" fill="#1e1e1e" stroke="#1e1e1e" font-family="Liberation Sans" >−1.0</text>
<text id="dx4" x="530.5" y="510.7" font-size="10.7" text-anchor="middle" fill="#1e1e1e" stroke="#1e1e1e" font-family="Liberation Sans" >−0.8</text>
<text id="dx5" x="562.5" y="510.7" font-size="10.7" text-anchor="middle" fill="#1e1e1e" stroke="#1e1e1e" font-family="Liberation Sans" >−0.6</text>
<text id="dx6" x="593.5" y="510.7" font-size="10.7" text-anchor="middle" fill="#1e1e1e" stroke="#1e1e1e" font-family="Liberation Sans" >−0.4</text>
<text id="dx7" x="625.5" y="510.7" font-size="10.7" text-anchor="middle" fill="#1e1e1e" stroke="#1e1e1e" font-family="Liberation Sans" >−0.2</text>
<text id="dx8" x="656.5" y="510.7" font-size="10.7" text-anchor="middle" fill="#1e1e1e" stroke="#1e1e1e" font-family="Liberation Sans" >0.0</text>
<rect x="425.6" y="474.1" width="3.8" height="3.8" fill="none" stroke="#111" stroke-width="1.45"/>
<rect x="429.6" y="472.2" width="3.8" height="3.8" fill="none" stroke="#111" stroke-width="1.45"/>
<rect x="433.7" y="470.9" width="3.8" height="3.8" fill="none" stroke="#111" stroke-width="1.45"/>
<rect x="524.6" y="394.3" width="3.8" height="3.8" fill="none" stroke="#111" stroke-width="1.45"/>
<rect x="528.8" y="391.1" width="3.8" height="3.8" fill="none" stroke="#111" stroke-width="1.45"/>
<rect x="532.8" y="389.4" width="3.8" height="3.8" fill="none" stroke="#111" stroke-width="1.45"/>
<rect x="537.3" y="386.6" width="3.8" height="3.8" fill="none" stroke="#111" stroke-width="1.45"/>
<rect x="582.6" y="347.8" width="3.8" height="3.8" fill="none" stroke="#111" stroke-width="1.45"/>
<rect x="586.7" y="344.8" width="3.8" height="3.8" fill="none" stroke="#111" stroke-width="1.45"/>
<rect x="590.7" y="341.5" width="3.8" height="3.8" fill="none" stroke="#111" stroke-width="1.45"/>
<rect x="595.2" y="338.4" width="3.8" height="3.8" fill="none" stroke="#111" stroke-width="1.45"/>
<rect x="623.8" y="320.4" width="3.8" height="3.8" fill="none" stroke="#111" stroke-width="1.45"/>
<rect x="628" y="314.6" width="3.8" height="3.8" fill="none" stroke="#111" stroke-width="1.45"/>
<rect x="632.2" y="308.5" width="3.8" height="3.8" fill="none" stroke="#111" stroke-width="1.45"/>
<rect x="636.4" y="305.4" width="3.8" height="3.8" fill="none" stroke="#111" stroke-width="1.45"/>
<line x1="427.5" y1="476" x2="638.3" y2="307.3" stroke="#111" stroke-width="1.4" stroke-dasharray="8 7" stroke-dashoffset="0"/>
<path d="M541.6 419.4 L569.3 419.4 L569.3 396.1 Z" fill="none" stroke="#111" stroke-width="1.4"/>
<text id="d_one1" x="575.7" y="411.8" font-size="11.2" text-anchor="middle" fill="#1e1e1e" stroke="#1e1e1e" font-family="Liberation Sans" >1</text>
<text id="d_one2" x="555.4" y="431" font-size="11.2" text-anchor="middle" fill="#1e1e1e" stroke="#1e1e1e" font-family="Liberation Sans" >1</text>
<text id="d_ylab" transform="translate(369.6,394) rotate(-90)" font-family="Liberation Sans" font-size="12.8" text-anchor="middle" fill="#1e1e1e" stroke="#1e1e1e" textLength="45.8" lengthAdjust="spacingAndGlyphs">log<tspan font-size="10" dy="3">10</tspan><tspan dy="-3">(Sh)</tspan></text>
<text id="d_pl" x="334.2" y="524" font-family="Liberation Sans" font-size="26" fill="#1e1e1e" stroke="#1e1e1e">(d)</text>
<text id="d_form" x="380.3" y="534.3" font-family="Liberation Sans" font-size="11.2" fill="#1e1e1e" stroke="#1e1e1e" textLength="303" lengthAdjust="spacingAndGlyphs">-22.86 + 2.14·log<tspan font-size="8.6" dy="3.9">10</tspan><tspan dy="-3.9">(Ra*) + 2.37·log</tspan><tspan font-size="8.6" dy="3.9">10</tspan><tspan dy="-3.9">(Sc) + 2.1·log</tspan><tspan font-size="8.6" dy="3.9">10</tspan><tspan dy="-3.9">(Co/Ca)</tspan></text>
</svg>
</body></html>
